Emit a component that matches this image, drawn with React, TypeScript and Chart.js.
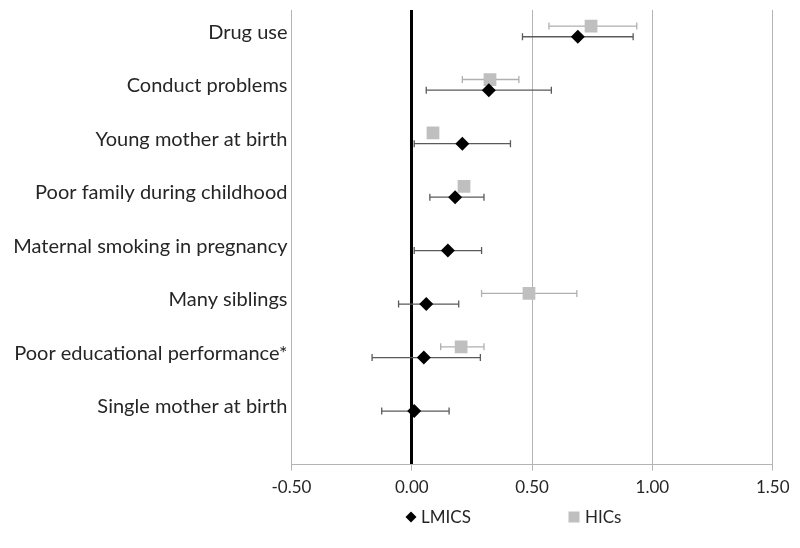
import React, { useEffect, useRef } from "react";
import { Chart, registerables } from "chart.js";

Chart.register(...registerables);

// ---- data (top row first) ----
const categories = [
  "Drug use",
  "Conduct problems",
  "Young mother at birth",
  "Poor family during childhood",
  "Maternal smoking in pregnancy",
  "Many siblings",
  "Poor educational performance*",
  "Single mother at birth",
];
const categoryRows = [8, 7, 6, 5, 4, 3, 2, 1];

const lmicsEst = [0.69, 0.32, 0.21, 0.18, 0.15, 0.06, 0.05, 0.01];
const lmicsLo = [0.46, 0.06, 0.01, 0.075, 0.01, -0.055, -0.165, -0.125];
const lmicsHi = [0.92, 0.58, 0.41, 0.3, 0.29, 0.195, 0.285, 0.155];

const hicsEst = [0.745, 0.325, 0.088, 0.217, null, 0.487, 0.205, null];
const hicsLo = [0.57, 0.21, null, null, null, 0.29, 0.12, null];
const hicsHi = [0.935, 0.445, null, null, null, 0.686, 0.3, null];

const xTickValues = [-0.5, 0, 0.5, 1.0, 1.5];
const seriesNames = ["LMICS", "HICs"];

const FONT = "Lato, 'Open Sans', sans-serif";
const TEXT = "#262626";
const GRID = "#b4b4b4";

export default function App() {
  const ref = useRef<HTMLCanvasElement | null>(null);

  useEffect(() => {
    if (!ref.current) return;

    const lmicsPts = categories.map((_, i) => ({
      x: lmicsEst[i],
      y: categoryRows[i],
      lo: lmicsLo[i],
      hi: lmicsHi[i],
    }));
    const hicsPts = categories
      .map((_, i) => ({
        x: hicsEst[i],
        y: categoryRows[i] + 0.2,
        lo: hicsLo[i],
        hi: hicsHi[i],
      }))
      .filter((p) => p.x !== null);

    const errorBars = {
      id: "errorBars",
      beforeDatasetsDraw(chart: any) {
        const { ctx } = chart;
        const xs = chart.scales.x;
        const ys = chart.scales.y;
        const sets = [...chart.data.datasets].reverse();
        sets.forEach((ds: any) => {
          ctx.save();
          ctx.strokeStyle = ds.errorColor;
          ctx.lineWidth = 1.3;
          ds.data.forEach((p: any) => {
            if (p.lo == null || p.hi == null) return;
            const py = ys.getPixelForValue(p.y);
            const x1 = xs.getPixelForValue(p.lo);
            const x2 = xs.getPixelForValue(p.hi);
            ctx.beginPath();
            ctx.moveTo(x1, py);
            ctx.lineTo(x2, py);
            ctx.moveTo(x1, py - 3.5);
            ctx.lineTo(x1, py + 3.5);
            ctx.moveTo(x2, py - 3.5);
            ctx.lineTo(x2, py + 3.5);
            ctx.stroke();
          });
          ctx.restore();
        });
      },
    };

    const categoryLabels = {
      id: "categoryLabels",
      afterDraw(chart: any) {
        const { ctx, chartArea } = chart;
        const ys = chart.scales.y;
        ctx.save();
        ctx.font = `20px ${FONT}`;
        ctx.fillStyle = TEXT;
        ctx.textAlign = "right";
        ctx.textBaseline = "middle";
        categories.forEach((c, i) => {
          ctx.fillText(c, chartArea.left - 4, ys.getPixelForValue(categoryRows[i] + 0.08));
        });
        ctx.restore();
      },
    };

    const customLegend = {
      id: "customLegend",
      afterDraw(chart: any) {
        const { ctx, width, height } = chart;
        const cx = width / 2;
        const cy = height - 23;
        ctx.save();
        ctx.font = `17px ${FONT}`;
        ctx.fillStyle = TEXT;
        ctx.textBaseline = "middle";
        ctx.textAlign = "left";
        // LMICS diamond
        const d = chart.data.datasets[0];
        const dx = cx + 11;
        ctx.fillStyle = d.backgroundColor;
        ctx.beginPath();
        ctx.moveTo(dx, cy - 5.5);
        ctx.lineTo(dx + 5.5, cy);
        ctx.lineTo(dx, cy + 5.5);
        ctx.lineTo(dx - 5.5, cy);
        ctx.closePath();
        ctx.fill();
        ctx.fillStyle = TEXT;
        ctx.fillText(seriesNames[0], dx + 10, cy + 1);
        // HICs square
        const h = chart.data.datasets[1];
        const hx = cx + 174;
        ctx.fillStyle = h.backgroundColor;
        ctx.fillRect(hx - 5.5, cy - 5.5, 11, 11);
        ctx.fillStyle = TEXT;
        ctx.fillText(seriesNames[1], hx + 11, cy + 1);
        ctx.restore();
      },
    };

    const chart = new Chart(ref.current, {
      type: "scatter",
      data: {
        datasets: [
          {
            label: seriesNames[0],
            data: lmicsPts as any,
            pointStyle: "rectRot",
            pointRadius: 7,
            pointHoverRadius: 7,
            backgroundColor: "#000000",
            borderColor: "#000000",
            borderWidth: 0,
            errorColor: "#5a5a5a",
          } as any,
          {
            label: seriesNames[1],
            data: hicsPts as any,
            pointStyle: "rect",
            pointRadius: 9,
            pointHoverRadius: 9,
            backgroundColor: "#bfbfbf",
            borderColor: "#bfbfbf",
            borderWidth: 0,
            errorColor: "#b0b0b0",
          } as any,
        ],
      },
      options: {
        animation: false,
        responsive: true,
        maintainAspectRatio: false,
        layout: { autoPadding: false, padding: { top: 2, right: 19.3, left: 283.5, bottom: 0 } },
        plugins: {
          legend: { display: false },
          tooltip: { enabled: false },
        },
        scales: {
          x: {
            type: "linear",
            min: -0.5,
            max: 1.5,
            afterBuildTicks: (s: any) => {
              s.ticks = xTickValues.map((v) => ({ value: v }));
            },
            afterFit: (s: any) => {
              s.height = 75.5;
              s.paddingLeft = 0;
              s.paddingRight = 0;
            },
            ticks: {
              color: TEXT,
              font: { family: FONT, size: 17 },
              padding: 7,
              callback: (v: any) => Number(v).toFixed(2),
            },
            grid: {
              color: (c: any) => (c.tick && c.tick.value === 0 ? "#000000" : GRID),
              lineWidth: (c: any) => (c.tick && c.tick.value === 0 ? 3 : 1),
              tickColor: GRID,
              tickWidth: 1,
              tickLength: 6,
              drawTicks: true,
            },
            border: { display: true, color: GRID, width: 1 },
          },
          y: {
            type: "linear",
            display: false,
            min: 0,
            max: 8.5,
          },
        },
      },
      plugins: [errorBars, categoryLabels, customLegend],
    });

    return () => chart.destroy();
  }, []);

  return (
    <div style={{ width: "100%", height: 532, position: "relative" }}>
      <canvas ref={ref} />
    </div>
  );
}
